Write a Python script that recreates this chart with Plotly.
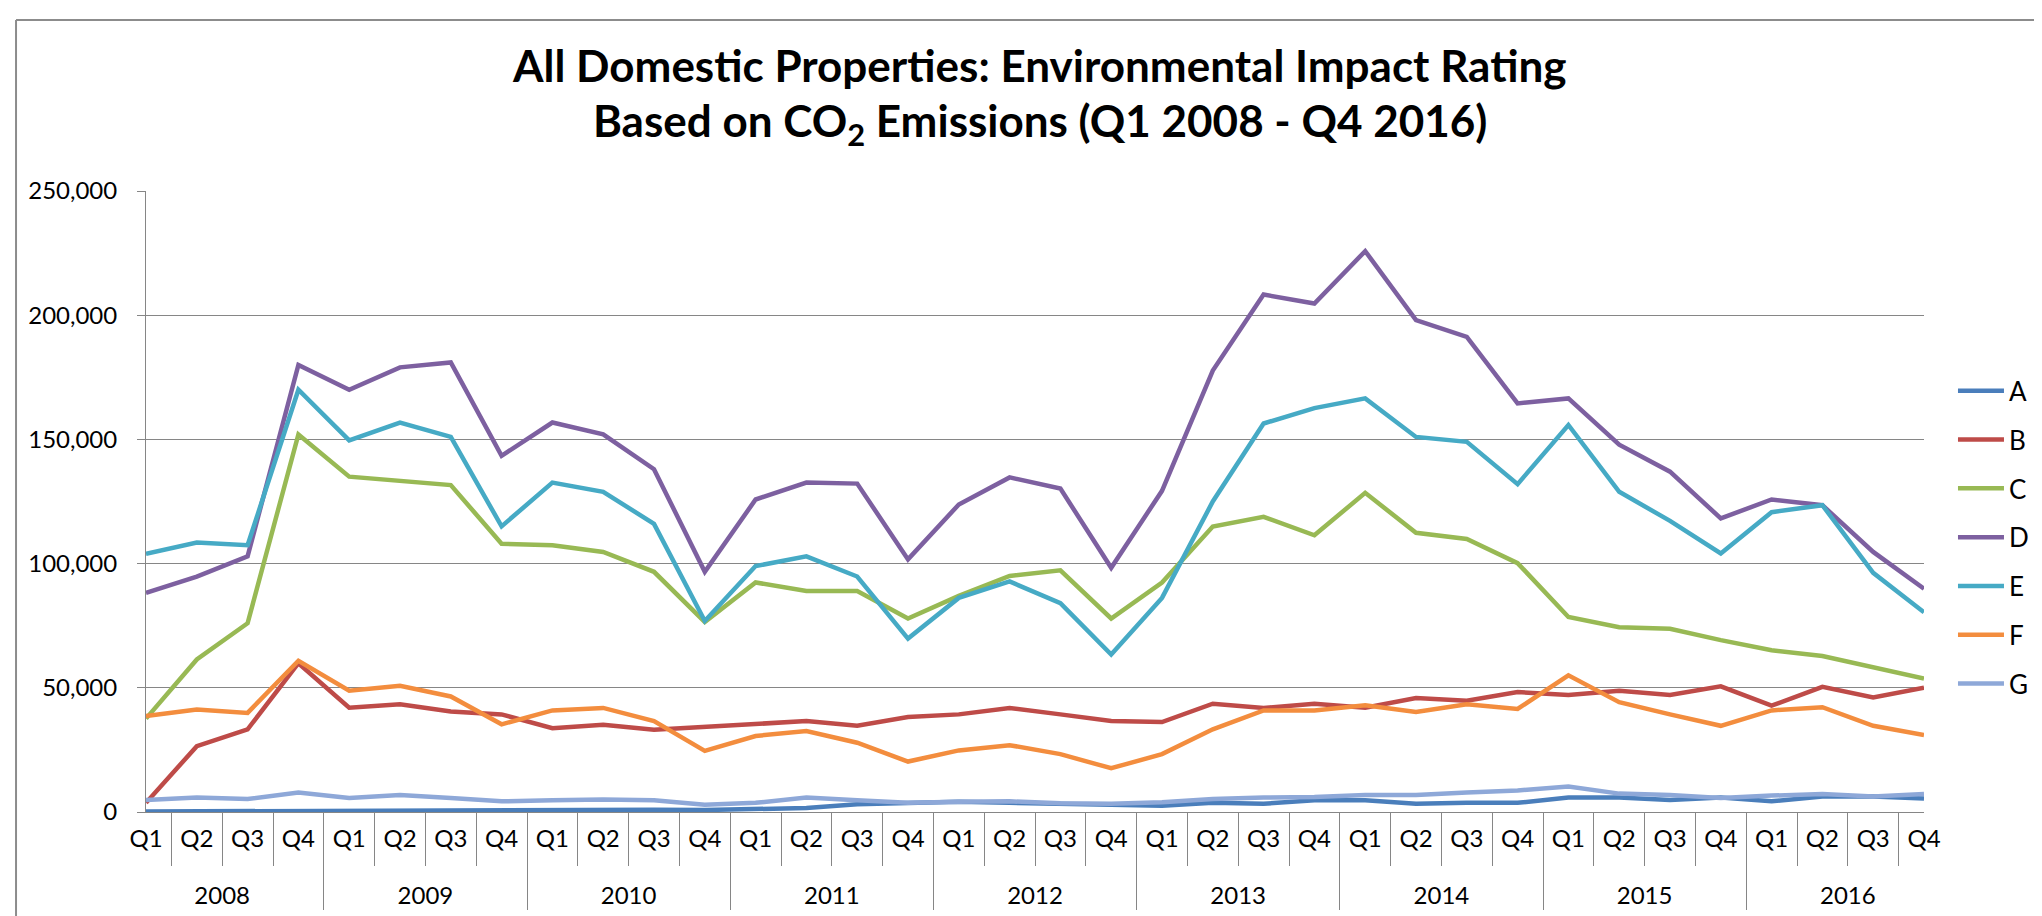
import plotly.graph_objects as go

years = ["2008", "2009", "2010", "2011", "2012", "2013", "2014", "2015", "2016"]
quarters = ["Q1", "Q2", "Q3", "Q4"]

band_a = [200, 300, 500, 600, 600, 700, 700, 700, 900, 800, 900, 800,
          1200, 1600, 3100, 3700, 4100, 3700, 3100, 2900, 2500, 3700, 3300, 4700,
          4700, 3300, 3700, 3700, 5800, 5800, 4800, 5800, 4300, 6200, 6200, 5400]
band_b = [3700, 26500, 33300, 59900, 42000, 43400, 40500, 39300, 33700, 35100, 33100, 34300,
          35700, 36600, 34700, 38200, 39300, 41900, 39300, 36600, 36200, 43600, 41900, 43600,
          42000, 45900, 44800, 48300, 47100, 48800, 47100, 50600, 42800, 50400, 46100, 50000]
band_c = [37600, 61400, 76000, 152000, 135000, 133500, 131600, 108000, 107400, 104700, 96700, 76500,
          92400, 89000, 89000, 77900, 87000, 95000, 97300, 77900, 92400, 114900, 118800, 111400,
          128500, 112400, 109900, 100200, 78500, 74400, 73800, 69200, 65100, 62800, 58300, 53700]
band_d = [88200, 94800, 102900, 180000, 170000, 179000, 181000, 143400, 156800, 152000, 138000, 96700,
          125800, 132600, 132200, 101700, 123800, 134700, 130200, 98300, 129300, 177700, 208300, 204700,
          225800, 198000, 191300, 164500, 166500, 147900, 137000, 118200, 125800, 123500, 104700, 89900]
band_e = [103900, 108500, 107400, 170000, 149600, 156800, 151000, 115000, 132600, 128900, 116000, 76900,
          99000, 102900, 94800, 69800, 86200, 92800, 84100, 63400, 86200, 125000, 156400, 162600,
          166500, 151000, 149000, 132000, 155800, 128900, 117200, 104100, 120700, 123500, 96300, 80400]
band_f = [38600, 41300, 39900, 60900, 48800, 50800, 46500, 35300, 40900, 41900, 36600, 24600,
          30600, 32600, 27900, 20300, 24800, 26900, 23300, 17600, 23300, 33300, 40900, 40900,
          43000, 40300, 43400, 41500, 55000, 44200, 39300, 34700, 40900, 42200, 34700, 31000]
band_g = [4800, 5800, 5200, 7800, 5600, 6800, 5600, 4300, 4700, 5000, 4700, 2900,
          3700, 5800, 4700, 3700, 4100, 4300, 3500, 3300, 3900, 5200, 5800, 6000,
          6800, 6800, 7800, 8700, 10300, 7400, 6800, 5600, 6600, 7200, 6200, 7200]

names = ["A", "B", "C", "D", "E", "F", "G"]
colors = ["#4A7EBB", "#BE4B48", "#98B954", "#7D60A0", "#46AAC5", "#F38D3E", "#8EA8D8"]
series = [band_a, band_b, band_c, band_d, band_e, band_f, band_g]

# outer level gets an empty first line so the years sit lower, like Excel does
year_labels = ["<br>" + y for y in years]
x = [[y for y in year_labels for q in quarters], [q for y in years for q in quarters]]

grey = "#868686"
font = "Lato"

fig = go.Figure()
for name, col, vals in zip(names, colors, series):
    fig.add_trace(go.Scatter(x=x, y=vals, mode="lines", name=name, legendgroup=name,
                             line=dict(color=col, width=4.5)))

fig.update_layout(
    width=2042, height=916,
    margin=dict(l=138, r=126, t=183, b=112, autoexpand=False),
    paper_bgcolor="white", plot_bgcolor="white",
    font=dict(family=font, size=24, color="#000000"),
    showlegend=True,
    legend=dict(x=1.0163, y=0.716, xanchor="left", yanchor="top", itemwidth=46,
                font=dict(size=26), tracegroupgap=12, bgcolor="rgba(0,0,0,0)"),
    annotations=[
        dict(text="<b>All Domestic Properties: Environmental Impact Rating</b>",
             x=0.5028, y=1.2029, xref="paper", yref="paper", showarrow=False,
             xanchor="center", yanchor="middle", font=dict(family=font, size=44)),
        dict(text="<b>Based on CO<sub>2</sub> Emissions (Q1 2008 - Q4 2016)</b>",
             x=0.5028, y=1.108, xref="paper", yref="paper", showarrow=False,
             xanchor="center", yanchor="middle", font=dict(family=font, size=44)),
    ],
    shapes=[
        dict(type="line", xref="paper", yref="paper", x0=-0.0731, x1=1.08, y0=1.2754, y1=1.2754,
             line=dict(color="#8C8C8C", width=2)),
        dict(type="line", xref="paper", yref="paper", x0=-0.0731, x1=-0.0731, y0=1.2754, y1=-0.2,
             line=dict(color="#8C8C8C", width=2)),
    ],
)

fig.update_xaxes(type="multicategory", showline=True, linecolor=grey, linewidth=1,
                 ticks="outside", ticklen=53, tickcolor=grey, tickson="boundaries",
                 showdividers=True, dividercolor=grey, dividerwidth=1,
                 ticklabelstandoff=5, showgrid=False, tickfont=dict(size=24))
fig.update_yaxes(range=[0, 250000], dtick=50000, tickformat=",", showline=True,
                 linecolor=grey, linewidth=1, ticks="outside", ticklen=8, tickcolor=grey,
                 showgrid=True, gridcolor=grey, gridwidth=1, zeroline=False,
                 ticklabelstandoff=15, tickfont=dict(size=24))

fig.write_html("out.html")
